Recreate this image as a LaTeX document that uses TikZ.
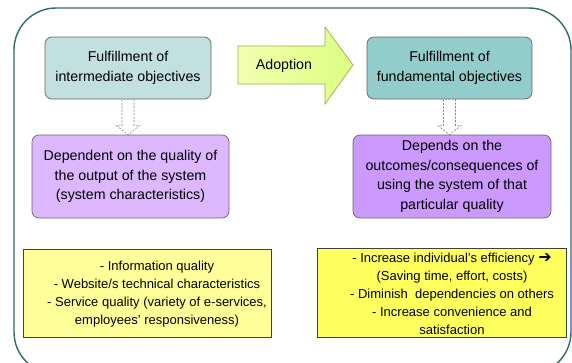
\documentclass[tikz,border=0pt]{standalone}
\usepackage{fontspec}
\setmainfont{Liberation Sans}
\newfontfamily\symfont{DejaVu Sans}
\usetikzlibrary{calc}
\definecolor{frame}{HTML}{2E6B6B}
\definecolor{tealA}{HTML}{C2E0E0}
\definecolor{tealB}{HTML}{92CDCB}
\definecolor{purA}{HTML}{DDB8FF}
\definecolor{purB}{HTML}{CC99FF}
\definecolor{yelA}{HTML}{FFFF99}
\definecolor{yelB}{HTML}{FFFF5E}
\definecolor{adoptL}{HTML}{F2FFB0}
\definecolor{adoptR}{HTML}{DDFF80}
\definecolor{adoptD}{HTML}{9AAA55}
\tikzset{
  box/.style={draw=gray!80!black, rounded corners=7pt, align=center, inner sep=0pt, text=black, line width=0.7pt},
  ybox/.style={draw=black!75, align=center, inner sep=0pt, text=black, line width=0.7pt, font=\fontsize{13}{18}\selectfont},
  ytext/.style={align=center, inner sep=0pt, text=black, font=\fontsize{13}{18}\selectfont},
  bigtext/.style={font=\fontsize{14.2}{19.5}\selectfont},
  dasharr/.style={draw=gray, dashed, dash pattern=on 2pt off 1.5pt, fill=white, line width=0.6pt}
}
\begin{document}
\begin{tikzpicture}[x=1pt,y=-1pt]
\useasboundingbox (0,0) rectangle (572,362);
\begin{scope}
\clip (0,0) rectangle (572,362);
\draw[frame, line width=1.4pt, rounded corners=42pt] (14,8) rectangle (571,374);
\end{scope}

% top boxes
\node[box, bigtext, fill=tealA, minimum width=166pt, minimum height=62pt] (t1) at (128,68) {Fulfillment of\\intermediate objectives};
\node[box, bigtext, fill=tealB, minimum width=165pt, minimum height=62pt] (t2) at (449.5,68) {Fulfillment of\\fundamental objectives};

% adoption arrow
\coordinate (a0) at (238,46);
\draw[draw=adoptD, left color=adoptL, right color=adoptR, line width=0.7pt]
  (a0) -- (325,46) -- (325,27) -- (353,65) -- (325,104) -- (325,84) -- (238,84) -- cycle;
\node[bigtext, text=black] (adopt) at (284,65.5) {Adoption};

% purple boxes
\node[box, bigtext, fill=purA, minimum width=197pt, minimum height=83pt] (p1) at (130.5,176.5) {Dependent on the quality of\\the output of the system\\(system characteristics)};
\node[box, bigtext, fill=purB, minimum width=198pt, minimum height=83pt] (p2) at (452,176.5) {Depends on the\\outcomes/consequences of\\using the system of that\\particular quality};

% dashed block arrows
\foreach \s/\d in {t1/p1, t2/p2}{
  \draw[dasharr]
    ([xshift=-6pt]\s.south) -- ([xshift=-6pt,yshift=9pt]\s.south |- \d.north)
    -- ([xshift=-11.5pt,yshift=9pt]\s.south |- \d.north)
    -- (\s.south |- \d.north)
    -- ([xshift=11.5pt,yshift=9pt]\s.south |- \d.north)
    -- ([xshift=6pt,yshift=9pt]\s.south |- \d.north)
    -- ([xshift=6pt]\s.south) -- cycle;
}

% yellow boxes
\node[ybox, fill=yelA, minimum width=248pt, minimum height=88pt] (y1) at (147,293) {};
\node[ytext] (y1t) at (157,294) {- Information quality\\- Website/s technical characteristics\\- Service quality (variety of e-services,\\employees' responsiveness)};
\node[ybox, fill=yelB, minimum width=249pt, minimum height=89pt] (y2) at (441.5,292.5) {};
\node[ytext] (y2t) at (452,294) {- Increase individual's efficiency {\symfont\bfseries\fontsize{16}{18}\selectfont ➔}\\(Saving time, effort, costs)\\- Diminish~ dependencies on others\\- Increase convenience and\\satisfaction};
\end{tikzpicture}
\end{document}
